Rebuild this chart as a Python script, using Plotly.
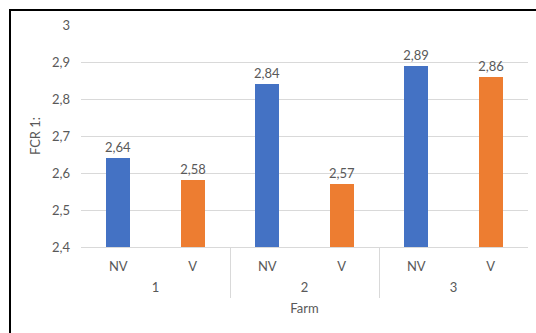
import plotly.graph_objects as go

farms = ["1", "2", "3"]
treatments = ["NV", "V"]
nv_values = [2.64, 2.84, 2.89]
v_values = [2.58, 2.57, 2.86]
y_ticks = [2.4, 2.5, 2.6, 2.7, 2.8, 2.9, 3.0]

colors_map = {"NV": "#4472C4", "V": "#ED7D31"}

# flatten into category slots: farm -> treatment
labels, y_vals, cols, farm_of = [], [], [], []
for i, f in enumerate(farms):
    for t, vals in zip(treatments, [nv_values, v_values]):
        labels.append(t)
        y_vals.append(vals[i])
        cols.append(colors_map[t])
        farm_of.append(f)
pos = list(range(len(labels)))
n_t = len(treatments)
group_centers = [i * n_t + (n_t - 1) / 2 for i in range(len(farms))]
group_bounds = [i * n_t - 0.5 for i in range(len(farms) + 1)]

W, H = 536, 333
ml, mr, mt, mb = 81, 8, 25, 0
ph = H - mt - mb
pw = W - ml - mr
def py(p):  # pixel row -> paper fraction
    return (H - mb - p) / ph

gray = "#595959"
line_gray = "#D9D9D9"
FONT = "Lato"
FS = 13

fig = go.Figure()
fig.add_trace(go.Bar(
    x=pos, y=y_vals,
    marker=dict(color=cols, line=dict(width=0)),
    width=0.32,
    texttemplate="%{y:.2f}",
    textposition="outside", constraintext="none",
    textfont=dict(color=gray, size=FS, family=FONT),
    cliponaxis=False, hoverinfo="skip",
))
fig.add_trace(go.Scatter(x=[], y=[], xaxis="x2", yaxis="y2", showlegend=False))

xr = [-0.5, len(labels) - 0.5]
fig.update_layout(
    width=W, height=H,
    margin=dict(l=ml, r=mr, t=mt, b=mb, autoexpand=False),
    paper_bgcolor="white", plot_bgcolor="rgba(0,0,0,0)",
    separators=", ",
    font=dict(family=FONT, color=gray, size=FS),
    showlegend=False,
    bargap=0,
    xaxis=dict(
        range=xr, tickvals=pos, ticktext=labels,
        showgrid=False, zeroline=False,
        showline=True, linecolor=line_gray, linewidth=1,
        ticks="", ticklabelstandoff=7,
        tickfont=dict(size=FS, color=gray),
        anchor="y", automargin=False,
    ),
    yaxis=dict(
        domain=[py(247), 1],
        range=[2.4, 3.0], tickvals=y_ticks, tickformat=".1~f",
        showgrid=True, gridcolor=line_gray, gridwidth=1,
        zeroline=False, showline=False, ticks="",
        ticklabelstandoff=10,
        tickfont=dict(size=FS, color=gray),
        title=dict(text="FCR 1:", font=dict(size=FS, color=gray), standoff=8),
        anchor="x", automargin=False,
    ),
    xaxis2=dict(
        range=xr, anchor="y2",
        tickvals=group_centers, ticktext=farms,
        ticks="", showgrid=False, zeroline=False, showline=False,
        ticklabelposition="inside",
        tickfont=dict(size=FS, color=gray),
        minor=dict(tickvals=group_bounds, showgrid=True,
                   gridcolor=line_gray, gridwidth=1, ticks=""),
        title=dict(text="Farm", font=dict(size=FS, color=gray), standoff=9),
        automargin=False,
    ),
    yaxis2=dict(
        domain=[py(298), py(247)], anchor="x2",
        range=[0, 1], visible=False, showgrid=False, zeroline=False,
        automargin=False,
    ),
)

# chart frame (top and left edges visible in reference)
fig.add_shape(type="rect", xref="paper", yref="paper",
              x0=(10 - ml) / pw, x1=1.2, y0=-0.6, y1=py(10),
              line=dict(color="black", width=2), layer="above")

fig.write_html("out.html")
